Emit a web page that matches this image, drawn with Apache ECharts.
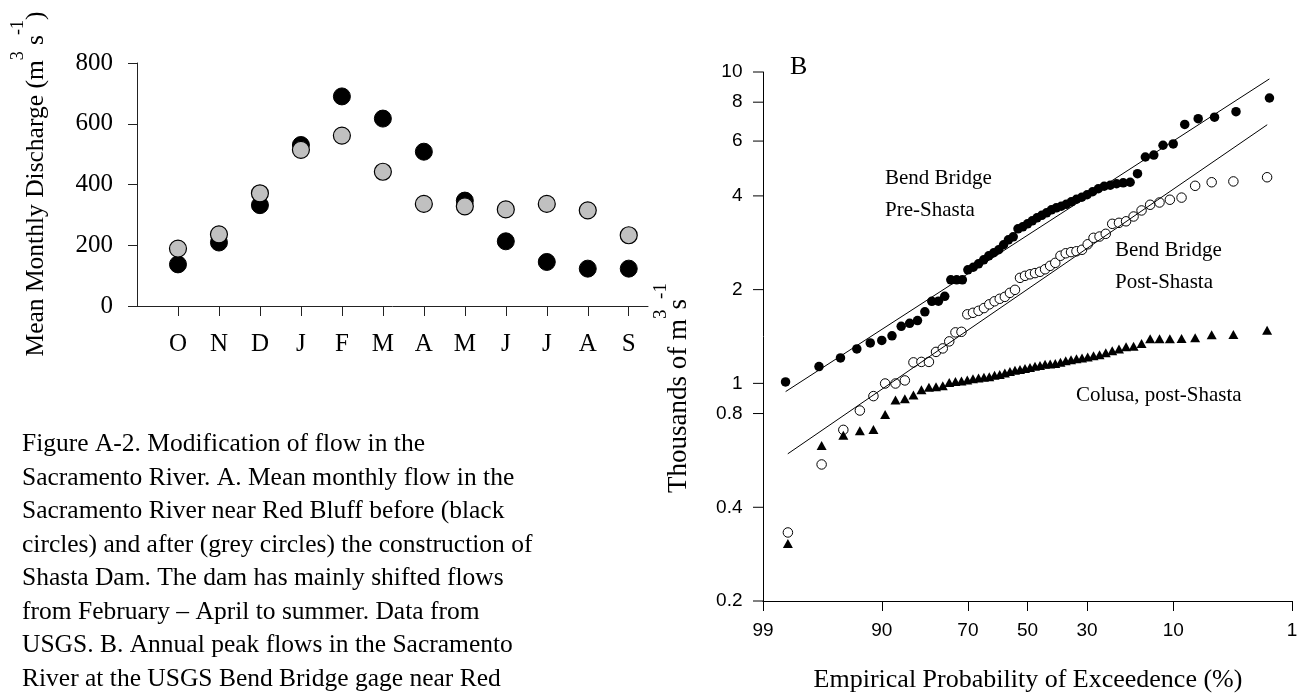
<!DOCTYPE html>
<html><head><meta charset="utf-8">
<script src="https://cdn.jsdelivr.net/npm/echarts@6/dist/echarts.min.js"></script>
<style>html,body{margin:0;padding:0;background:#fff}#c{width:1302px;height:700px}</style>
</head><body><div id="c"></div>
<script>
// ---- Panel A data ----
const months = ['O','N','D','J','F','M','A','M','J','J','A','S'];
const preShastaMonthly  = [137,209,332,530,690,617,508,347,213,145,123,123];
const postShastaMonthly = [189,236,371,514,561,442,336,328,318,336,315,233];
const monthlyTicks = [0,200,400,600,800];

// ---- Panel B data (annual peak flows, thousands of m3/s, ascending order) ----
const probTicks = [99,90,70,50,30,10,1];
const flowTicks = [0.2,0.4,0.8,1,2,4,6,8,10];
const bendBridgePre = [1.011,1.132,1.207,1.290,1.349,1.374,1.421,1.525,1.559,1.591,
  1.697,1.835,1.836,1.903,2.151,2.151,2.151,2.316,2.360,2.421,
  2.494,2.569,2.627,2.686,2.787,2.891,2.956,3.136,3.183,3.254,
  3.327,3.402,3.466,3.531,3.610,3.664,3.705,3.760,3.830,3.902,
  3.960,4.034,4.125,4.217,4.296,4.328,4.376,4.408,4.425,4.713,
  5.333,5.411,5.817,5.874,6.786,7.078,7.158,7.454,8.250];
const bendBridgePost = [0.332,0.549,0.709,0.818,0.910,0.999,0.999,1.022,1.168,1.172,
  1.172,1.262,1.295,1.364,1.458,1.464,1.666,1.685,1.710,1.745,
  1.794,1.835,1.869,1.896,1.953,1.997,2.182,2.215,2.240,2.260,
  2.282,2.325,2.385,2.438,2.569,2.617,2.640,2.656,2.686,2.797,
  2.934,2.962,3.022,3.254,3.278,3.315,3.435,3.592,3.746,3.810,
  3.888,3.950,4.310,4.425,4.452,4.592];
const colusaPost = [0.306,0.632,0.681,0.704,0.711,0.795,0.885,0.892,0.918,0.953,
  0.971,0.976,0.982,1.006,1.013,1.018,1.026,1.034,1.041,1.047,
  1.051,1.061,1.068,1.080,1.091,1.101,1.109,1.117,1.125,1.134,
  1.142,1.151,1.155,1.159,1.168,1.181,1.190,1.199,1.207,1.216,
  1.226,1.235,1.253,1.272,1.290,1.310,1.315,1.344,1.390,1.390,
  1.390,1.393,1.400,1.432,1.435,1.480];
// fitted lines: [exceedance %, flow]
const preFit  = [[98.33,0.941],[1.67,9.5]];
const postFit = [[98.25,0.594],[1.75,6.77]];

const captionLines = [
  'Figure A-2. Modification of flow in the',
  'Sacramento River. A. Mean monthly flow in the',
  'Sacramento River near Red Bluff before (black',
  'circles) and after (grey circles) the construction of',
  'Shasta Dam. The dam has mainly shifted flows',
  'from February \u2013 April to summer. Data from',
  'USGS. B. Annual peak flows in the Sacramento',
  'River at the USGS Bend Bridge gage near Red'
];

// inverse standard normal CDF (Acklam)
function probit(p){
  const a=[-3.969683028665376e+01,2.209460984245205e+02,-2.759285104469687e+02,1.383577518672690e+02,-3.066479806614716e+01,2.506628277459239e+00];
  const b=[-5.447609879822406e+01,1.615858368580409e+02,-1.556989798598866e+02,6.680131188771972e+01,-1.328068155288572e+01];
  const c=[-7.784894002430293e-03,-3.223964580411365e-01,-2.400758277161838e+00,-2.549732539343734e+00,4.374664141464968e+00,2.938163982698783e+00];
  const d=[7.784695709041462e-03,3.224671290700398e-01,2.445134137142996e+00,3.754408661907416e+00];
  const pl=0.02425, ph=1-pl; let q,r;
  if(p<pl){q=Math.sqrt(-2*Math.log(p));return (((((c[0]*q+c[1])*q+c[2])*q+c[3])*q+c[4])*q+c[5])/((((d[0]*q+d[1])*q+d[2])*q+d[3])*q+1);}
  if(p<=ph){q=p-0.5;r=q*q;return (((((a[0]*r+a[1])*r+a[2])*r+a[3])*r+a[4])*r+a[5])*q/(((((b[0]*r+b[1])*r+b[2])*r+b[3])*r+b[4])*r+1);}
  q=Math.sqrt(-2*Math.log(1-p));return -(((((c[0]*q+c[1])*q+c[2])*q+c[3])*q+c[4])*q+c[5])/((((d[0]*q+d[1])*q+d[2])*q+d[3])*q+1);
}
const xOfExceed = e => probit(1 - e/100);
const rankData = arr => arr.map((v,i)=>[probit((i+1)/(arr.length+1)), v]);
const probTickPos = probTicks.map(xOfExceed);
const X_MIN = probTickPos[0] - 1e-9, X_MAX = probTickPos[probTickPos.length-1] + 1e-9;

const SERIF = '"Liberation Serif","Times New Roman",serif';
const SANS = '"Liberation Sans",Arial,sans-serif';

const chart = echarts.init(document.getElementById('c'), null, {renderer:'canvas'});
chart.setOption({
  backgroundColor:'#fff',
  animation:false,
  grid:[
    {left:137, top:63, width:511, height:243},
    {left:763, top:72, width:529, height:529}
  ],
  xAxis:[
    {gridIndex:0, type:'value', min:0, max:12.47,
     axisLine:{onZero:false, lineStyle:{color:'#222',width:1}},
     axisTick:{customValues:months.map((m,i)=>i+1), length:10, lineStyle:{color:'#222'}},
     axisLabel:{customValues:months.map((m,i)=>i+1), formatter:v=>months[Math.round(v)-1],
       margin:26, fontFamily:SERIF, fontSize:25, color:'#000'},
     splitLine:{show:false}},
    {gridIndex:1, type:'value', min:X_MIN, max:X_MAX,
     axisLine:{onZero:false, lineStyle:{color:'#000',width:1}},
     axisTick:{customValues:probTickPos, length:10, lineStyle:{color:'#000'}},
     axisLabel:{customValues:probTickPos, formatter:v=>{
        let best=0,bd=1e9; probTickPos.forEach((t,i)=>{const dd=Math.abs(t-v); if(dd<bd){bd=dd;best=i;}});
        return String(probTicks[best]);},
       margin:20, fontFamily:SANS, fontSize:19, color:'#000', showMinLabel:true, showMaxLabel:true},
     splitLine:{show:false}}
  ],
  yAxis:[
    {gridIndex:0, type:'value', min:monthlyTicks[0], max:monthlyTicks[monthlyTicks.length-1], interval:200,
     axisLine:{show:true, onZero:false, lineStyle:{color:'#222',width:1}},
     axisTick:{show:true, length:9, lineStyle:{color:'#222'}},
     axisLabel:{margin:24, fontFamily:SERIF, fontSize:25, color:'#000'},
     splitLine:{show:false}},
    {gridIndex:1, type:'log', logBase:10, min:flowTicks[0], max:flowTicks[flowTicks.length-1],
     axisLine:{show:true, onZero:false, lineStyle:{color:'#000',width:1}},
     axisTick:{show:false}, axisLabel:{show:false}, splitLine:{show:false}, minorTick:{show:false}}
  ],
  series:[
    {name:'Pre-Shasta monthly', type:'scatter', xAxisIndex:0, yAxisIndex:0,
     data:preShastaMonthly.map((v,i)=>[i+1,v]), symbol:'circle', symbolSize:17,
     itemStyle:{color:'#000', borderColor:'#000', borderWidth:1, opacity:1}},
    {name:'Post-Shasta monthly', type:'scatter', xAxisIndex:0, yAxisIndex:0,
     data:postShastaMonthly.map((v,i)=>[i+1,v]), symbol:'circle', symbolSize:17,
     itemStyle:{color:'#c0c0c0', borderColor:'#000', borderWidth:1.2, opacity:1}},
    {name:'Pre fit', type:'line', xAxisIndex:1, yAxisIndex:1, showSymbol:false, silent:true,
     data:preFit.map(d=>[xOfExceed(d[0]), d[1]]), lineStyle:{color:'#000', width:1}},
    {name:'Post fit', type:'line', xAxisIndex:1, yAxisIndex:1, showSymbol:false, silent:true,
     data:postFit.map(d=>[xOfExceed(d[0]), d[1]]), lineStyle:{color:'#000', width:1}},
    {name:'Bend Bridge Pre-Shasta', type:'scatter', xAxisIndex:1, yAxisIndex:1,
     data:rankData(bendBridgePre), symbol:'circle', symbolSize:9.5,
     itemStyle:{color:'#000', opacity:1}},
    {name:'Bend Bridge Post-Shasta', type:'scatter', xAxisIndex:1, yAxisIndex:1,
     data:rankData(bendBridgePost), symbol:'circle', symbolSize:9.5,
     itemStyle:{color:'#fff', borderColor:'#000', borderWidth:1, opacity:1}},
    {name:'Colusa post-Shasta', type:'scatter', xAxisIndex:1, yAxisIndex:1,
     data:rankData(colusaPost), symbol:'triangle', symbolSize:[10,9],
     itemStyle:{color:'#000', opacity:1}},
    {name:'flow ticks', type:'custom', xAxisIndex:1, yAxisIndex:1, silent:true, clip:false,
     data:flowTicks.map(v=>[X_MIN, v]),
     renderItem:(params, api)=>{
       const p = api.coord([api.value(0), api.value(1)]);
       return {type:'group', children:[
         {type:'line', shape:{x1:p[0]-10, y1:p[1], x2:p[0], y2:p[1]}, style:{stroke:'#000', lineWidth:1}},
         {type:'text', style:{text:String(flowTicks[params.dataIndex]), x:p[0]-20.5, y:p[1],
           align:'right', verticalAlign:'middle', fontFamily:SANS, fontSize:19, fill:'#000'}}
       ]};
     }}
  ],
  graphic:[
    {type:'text', x:29, y:184, rotation:Math.PI/2, silent:true,
     style:{text:'{n|Mean Monthly Discharge (m}{s|3}{n| s}{s|-1}{n|)}', align:'center', verticalAlign:'middle',
       rich:{n:{fontFamily:SERIF, fontSize:25.5, verticalAlign:'bottom', fill:'#000'},
             s:{fontFamily:SERIF, fontSize:18, verticalAlign:'top', lineHeight:40, fill:'#000'}}}},
    {type:'text', x:672, y:388, rotation:Math.PI/2, silent:true,
     style:{text:'{n|Thousands of m}{s|3}{n|s}{s|-1}', align:'center', verticalAlign:'middle',
       rich:{n:{fontFamily:SERIF, fontSize:27, verticalAlign:'bottom', fill:'#000'},
             s:{fontFamily:SERIF, fontSize:19, verticalAlign:'top', lineHeight:40, fill:'#000'}}}},
    {type:'text', x:22, y:428, silent:true,
     style:{text:captionLines.join('\n'), fontFamily:SERIF, fontSize:25.5, lineHeight:33.5, fill:'#000', verticalAlign:'top'}},
    {type:'text', x:790, y:67, silent:true,
     style:{text:'B', fontFamily:SERIF, fontSize:26, fill:'#000', verticalAlign:'middle'}},
    {type:'text', x:885, y:162, silent:true,
     style:{text:'Bend Bridge\nPre-Shasta', fontFamily:SERIF, fontSize:21, lineHeight:32.4, fill:'#000', verticalAlign:'top'}},
    {type:'text', x:1115, y:234, silent:true,
     style:{text:'Bend Bridge\nPost-Shasta', fontFamily:SERIF, fontSize:21, lineHeight:32.4, fill:'#000', verticalAlign:'top'}},
    {type:'text', x:1076, y:395, silent:true,
     style:{text:'Colusa, post-Shasta', fontFamily:SERIF, fontSize:21, fill:'#000', verticalAlign:'middle'}},
    {type:'text', x:1028, y:680, silent:true,
     style:{text:'Empirical Probability of Exceedence (%)', fontFamily:SERIF, fontSize:26, fill:'#000', align:'center', verticalAlign:'middle'}}
  ]
});
</script>
</body></html>
